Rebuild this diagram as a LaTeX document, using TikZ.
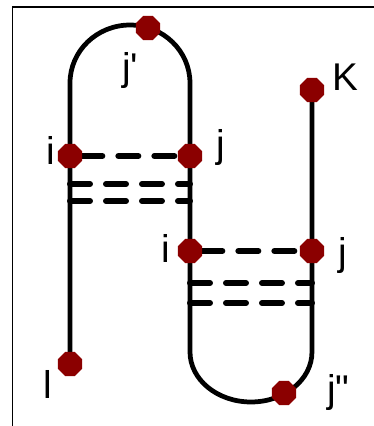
\documentclass[tikz,border=0pt]{standalone}
\usepackage{fontspec}
\setmainfont{Liberation Sans}
\usetikzlibrary{shapes.geometric, backgrounds}
\definecolor{beadred}{HTML}{8B0000}
\tikzset{
  bead/.style={regular polygon, regular polygon sides=8, fill=beadred, draw=none,
               inner sep=0pt, minimum size=0.52cm},
  strand/.style={line width=2.7pt, draw=black},
  bond/.style={line width=3.4pt, draw=black, dash pattern=on 0.4cm off 0.32cm, line cap=round},
  tag/.style={anchor=base west, inner sep=0pt, font=\fontsize{22}{26}\selectfont},
  frame/.style={line width=1.1pt, draw=black}
}
\begin{document}
\begin{tikzpicture}[x=0.02cm, y=-0.02cm]
  \useasboundingbox (0,0) rectangle (374,426);
  \draw[frame] (12.5,426) -- (12.5,7) -- (374,7);
  % strand bends
  \coordinate (tl) at (70,83);
  \coordinate (bl) at (190,352);
  % beads
  \node[bead] (l) at (70,364) {};
  \node[bead] (iA) at (70,156) {};
  \node[bead] (jA) at (190,156) {};
  \node[bead] (jp) at (148,28) {};
  \node[bead] (iB) at (190,251) {};
  \node[bead] (jB) at (312,251) {};
  \node[bead] (K) at (312,90) {};
  \node[bead] (jpp) at (284,393) {};
  % rung ends
  \coordinate (a1) at (70,184);  \coordinate (b1) at (190,184);
  \coordinate (a2) at (70,201);  \coordinate (b2) at (190,201);
  \coordinate (c1) at (190,283); \coordinate (d1) at (312,283);
  \coordinate (c2) at (190,303); \coordinate (d2) at (312,303);
  \begin{scope}[on background layer]
    \draw[strand] (l.center) -- (tl) arc[start angle=180, end angle=0, x radius=1.2cm, y radius=1.16cm]
      -- (bl) arc[start angle=180, end angle=360, x radius=1.22cm, y radius=1.0cm] -- (K.center);
    \draw[bond] (iA) -- (jA);
    \draw[bond] (a1) -- (b1);
    \draw[bond] (a2) -- (b2);
    \draw[bond] (iB) -- (jB);
    \draw[bond] (c1) -- (d1);
    \draw[bond] (c2) -- (d2);
  \end{scope}
  % labels
  \node[tag] (lab-jp) at (122,80) {j\textquotesingle};
  \node[tag] (lab-K) at (332,90) {K};
  \node[tag] (lab-iA) at (46,164) {i};
  \node[tag] (lab-jA) at (216,157) {j};
  \node[tag] (lab-iB) at (161,262) {i};
  \node[tag] (lab-jB) at (338,265) {j};
  \node[tag] (lab-jpp) at (327,402) {j\textquotedbl};
  \node[tag] (lab-l) at (43,398) {l};
\end{tikzpicture}
\end{document}
